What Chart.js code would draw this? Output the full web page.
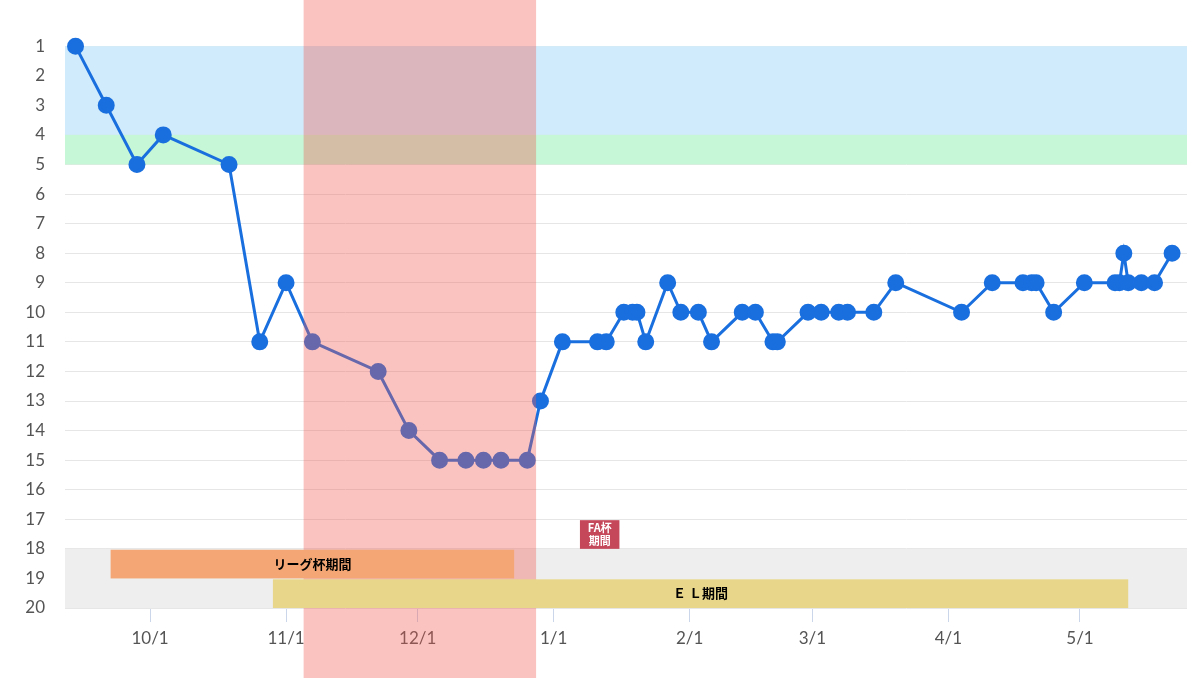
<!DOCTYPE html>
<html><head><meta charset="utf-8">
<script src="https://cdn.jsdelivr.net/npm/chart.js@4.4.1/dist/chart.umd.min.js"></script>
<style>html,body{margin:0;padding:0;background:#fff}#w{width:1200px;height:678px}</style>
</head><body><div id="w"><canvas id="c"></canvas></div>
<script>
const dates=["2016-09-14","2016-09-21","2016-09-28","2016-10-04","2016-10-19","2016-10-26","2016-11-01","2016-11-07","2016-11-22","2016-11-29","2016-12-06","2016-12-12","2016-12-16","2016-12-20","2016-12-26","2016-12-29","2017-01-03","2017-01-11","2017-01-13","2017-01-17","2017-01-19","2017-01-20","2017-01-22","2017-01-27","2017-01-30","2017-02-03","2017-02-06","2017-02-13","2017-02-16","2017-02-20","2017-02-21","2017-02-28","2017-03-03","2017-03-07","2017-03-09","2017-03-15","2017-03-20","2017-04-04","2017-04-11","2017-04-18","2017-04-20","2017-04-21","2017-04-25","2017-05-02","2017-05-09","2017-05-10","2017-05-11","2017-05-12","2017-05-15","2017-05-18","2017-05-22"];
const ranks=[1,3,5,4,5,11,9,11,12,14,15,15,15,15,15,13,11,11,11,10,10,10,11,9,10,10,11,10,10,11,11,10,10,10,10,10,9,10,9,9,9,9,10,9,9,9,8,9,9,9,8];
const monthTicks=["2016-10-01","2016-11-01","2016-12-01","2017-01-01","2017-02-01","2017-03-01","2017-04-01","2017-05-01"];
const monthLabels=["10/1","11/1","12/1","1/1","2/1","3/1","4/1","5/1"];
const yTicks=[1,2,3,4,5,6,7,8,9,10,11,12,13,14,15,16,17,18,19,20];
const redPeriod=["2016-11-05","2016-12-28"];
const leagueCup=["2016-09-22","2016-12-23"];
const elPeriod=["2016-10-29","2017-05-12"];
const faPeriod=["2017-01-07","2017-01-16"];
const origin=Date.UTC(2016,9,1);
const d=s=>{const [y,m,dd]=s.split("-").map(Number);return (Date.UTC(y,m-1,dd)-origin)/86400000;};
const pts=dates.map((s,i)=>({x:d(s),y:ranks[i]}));
const tickVals=monthTicks.map(d);

const bands={id:'bands',
 beforeDatasetsDraw(ch){const c=ch.ctx,a=ch.chartArea,y=ch.scales.y;
  const Y=v=>y.getPixelForValue(v);
  c.save();
  c.fillStyle='#eeeeee';c.fillRect(a.left,Y(18),a.right-a.left,Y(20)-Y(18));
  c.fillStyle='#d0ebfb';c.fillRect(a.left,Y(1),a.right-a.left,Y(4)-Y(1));
  c.fillStyle='#c6f7d6';c.fillRect(a.left,Y(4),a.right-a.left,Y(5)-Y(4));
  c.restore();},
 afterDatasetsDraw(ch){const c=ch.ctx,x=ch.scales.x,y=ch.scales.y;
  const Y=v=>y.getPixelForValue(v),X=v=>x.getPixelForValue(v);
  c.save();
  const x0=X(d(redPeriod[0])),x1=X(d(redPeriod[1]));
  c.fillStyle='rgba(240,90,80,0.36)';c.fillRect(x0,0,x1-x0,ch.height);
  c.fillStyle='#f4a774';c.fillRect(X(d(leagueCup[0])),Y(18.03),X(d(leagueCup[1]))-X(d(leagueCup[0])),Y(19)-Y(18.03));
  c.fillStyle='#e8d68a';c.fillRect(X(d(elPeriod[0])),Y(19.03),X(d(elPeriod[1]))-X(d(elPeriod[0])),Y(20)-Y(19.03));
  c.fillStyle='#c4475a';c.fillRect(X(d(faPeriod[0])),Y(17.03),X(d(faPeriod[1]))-X(d(faPeriod[0])),Y(18)-Y(17.03));
  c.fillStyle='#000';c.font='bold 13px "Noto Sans CJK JP"';c.textAlign='center';c.textBaseline='middle';
  c.fillText('リーグ杯期間',(X(d(leagueCup[0]))+X(d(leagueCup[1])))/2,Y(18.5));
  c.fillText('Ｅ Ｌ期間',(X(d(elPeriod[0]))+X(d(elPeriod[1])))/2,Y(19.5));
  c.fillStyle='#fff';c.font='bold 11px "Noto Sans CJK JP"';
  const fx=(X(d(faPeriod[0]))+X(d(faPeriod[1])))/2;
  c.fillText('FA杯',fx,Y(17.28));c.fillText('期間',fx,Y(17.72));
  c.restore();}
};

new Chart(document.getElementById('c'),{type:'line',
 data:{datasets:[{data:pts,borderColor:'#1a6fdf',backgroundColor:'#1a6fdf',borderWidth:3,pointRadius:7,pointHoverRadius:7,tension:0,clip:false}]},
 options:{responsive:true,maintainAspectRatio:false,animation:false,layout:{padding:{top:0,right:13,bottom:0,left:0}},
  plugins:{legend:{display:false},tooltip:{enabled:false}},
  scales:{
   x:{type:'linear',min:-19.4,max:236.4,
    afterBuildTicks(s){s.ticks=tickVals.map(v=>({value:v}));},
    ticks:{autoSkip:false,maxRotation:0,color:'#555',font:{size:17,family:'Lato'},padding:6,callback:(v)=>monthLabels[tickVals.indexOf(v)]},
    grid:{drawOnChartArea:false,tickLength:14,color:'#ccd6eb',lineWidth:1},border:{display:false},
    afterFit(s){s.height=70;}},
   y:{reverse:true,min:0.46,max:20,
    afterBuildTicks(s){s.ticks=yTicks.map(v=>({value:v}));},
    ticks:{autoSkip:false,color:'#555',font:{size:17,family:'Lato'},padding:20},
    grid:{color:'#e6e6e6',drawTicks:false},border:{display:false},
    afterFit(s){s.width=65;}}
  }},
 plugins:[bands]});
</script></body></html>
